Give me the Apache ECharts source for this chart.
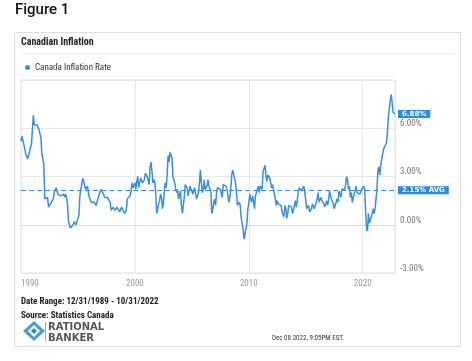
<!DOCTYPE html>
<html>
<head>
<meta charset="utf-8">
<script src="https://cdn.jsdelivr.net/npm/echarts@6/dist/echarts.min.js"></script>
<style>
html,body{margin:0;padding:0;background:#fff;}
#chart{width:472px;height:361px;}
</style>
</head>
<body>
<div id="chart"></div>
<script>
// Monthly Canada CPI inflation (y/y %), month-end dates starting Dec 1989
const startYear = 1989;
const startMonth = 12;
const rates1990s = [5.2,
  5.5,5.4,5.0,4.7,4.4,4.3,4.1,4.1,4.2,4.8,5.0,5.0,
  6.8,6.2,6.3,6.3,6.2,6.3,5.9,5.8,5.4,4.4,4.1,3.8,
  1.6,1.6,1.6,1.7,1.1,1.1,1.3,1.2,1.3,1.6,2.0,2.1,
  2.3,2.1,1.9,1.9,1.8,1.8,1.7,1.7,1.9,1.7,1.9,1.7,
  1.3,0.2,0.2,-0.2,-0.2,-0.1,0.0,0.2,0.2,0.0,0.2,0.2,
  0.6,1.8,2.2,2.5,2.9,2.7,2.6,2.2,2.3,2.4,2.0,1.7,
  1.6,1.4,1.4,1.4,1.4,1.4,1.2,1.4,1.5,1.8,2.0,2.2,
  2.2,2.2,1.9,1.7,1.6,1.8,1.7,1.8,1.6,1.4,0.9,0.8,
  1.1,1.0,0.9,0.9,1.1,1.0,1.0,0.8,0.8,1.1,1.0,1.0,
  0.7,0.6,0.9,1.6,1.6,1.6,1.8,2.1,2.6,2.3,2.2,2.6];
const rates2000s = [
  2.2,2.7,3.0,2.3,2.4,2.9,3.0,2.6,2.7,2.8,3.2,3.2,
  3.0,2.9,2.5,3.6,3.9,3.3,2.6,2.8,2.6,1.9,0.7,0.7,
  1.3,1.5,1.9,1.7,1.0,1.3,2.1,2.6,2.3,3.2,4.3,3.9,
  4.5,4.6,4.2,3.0,2.9,2.6,2.2,2.0,2.2,1.6,1.6,2.1,
  1.2,0.7,0.8,1.7,2.5,2.5,2.3,1.8,1.8,2.4,2.4,2.1,
  1.9,2.1,2.3,2.4,1.6,1.7,2.0,2.6,3.4,2.6,2.0,2.2,
  2.8,2.2,2.2,2.4,2.8,2.4,2.3,2.1,0.7,0.9,1.4,1.6,
  1.2,2.0,2.3,2.2,2.2,2.2,2.2,1.7,2.5,2.4,2.5,2.4,
  2.2,1.8,1.4,1.7,2.2,3.1,3.4,3.5,3.4,2.6,2.0,1.2,
  1.1,1.4,1.2,0.4,0.1,-0.3,-0.9,-0.8,-0.9,0.1,1.0,1.3];
const rates2010s = [
  1.9,1.6,1.4,1.8,1.4,1.0,1.8,1.7,1.9,2.4,2.0,2.4,
  2.3,2.2,3.3,3.3,3.7,3.1,2.7,3.1,3.2,2.9,2.9,2.3,
  2.5,2.6,1.9,2.0,1.2,1.5,1.3,1.2,1.2,1.2,0.8,0.8,
  0.5,1.2,1.0,0.4,0.7,1.2,1.3,1.1,1.1,0.7,0.9,1.2,
  1.5,1.1,1.5,2.0,2.3,2.4,2.1,2.1,2.0,2.4,2.0,1.5,
  1.0,1.0,1.2,0.8,0.9,1.0,1.3,1.3,1.0,1.0,1.4,1.6,
  2.0,1.4,1.3,1.7,1.5,1.5,1.3,1.1,1.3,1.5,1.2,1.5,
  2.1,2.0,1.6,1.6,1.3,1.0,1.2,1.4,1.6,1.4,2.1,1.9,
  1.7,2.2,2.3,2.2,2.2,2.5,3.0,2.8,2.2,2.4,1.7,2.0,
  1.4,1.5,1.9,2.0,2.4,2.0,2.0,1.9,1.9,1.9,2.2,2.2];
const rates2020s = [
  2.4,2.2,0.9,-0.2,-0.4,0.7,0.1,0.1,0.5,0.7,1.0,0.7,
  1.0,1.1,2.2,3.4,3.6,3.1,3.7,4.1,4.4,4.7,4.7,4.8,
  5.1,5.7,6.7,6.8,7.7,8.1,7.6,7.0,6.9,6.88];
const avgRate = 2.15;
const yTicks = [-3, 0, 3, 6];
const seriesName = 'Canada Inflation Rate';

const rates = [].concat(rates1990s, rates2000s, rates2010s, rates2020s);
const data = rates.map((v, i) => {
  const m = startMonth + i;            // months since Jan of startYear (1-based)
  const x = startYear + m / 12;        // month-end in decimal years
  return [x, v];
});
const xMin = data[0][0];
const xMax = data[data.length - 1][0];

const blue = '#3a8fdc';
const tagBlue = '#2b8de0';
const narrow = '"Liberation Sans Narrow", "Roboto Condensed", Roboto';
const chart = echarts.init(document.getElementById('chart'));
chart.setOption({
  animation: false,
  backgroundColor: '#fff',
  textStyle: {fontFamily: 'Roboto'},
  grid: {left: 21, right: 77, top: 80, bottom: 88, show: true, borderColor: '#e2e2e2', borderWidth: 1},
  legend: {
    left: 25, top: 63, padding: 0, itemWidth: 5, itemHeight: 5, icon: 'circle', itemGap: 4,
    textStyle: {fontSize: 9, color: '#333', fontFamily: narrow},
    data: [seriesName]
  },
  xAxis: {
    type: 'value', min: xMin, max: xMax, interval: 10,
    axisLine: {show: true, lineStyle: {color: '#dcdcdc'}},
    axisTick: {show: false},
    splitLine: {show: true, lineStyle: {color: '#e8e8e8'}},
    axisLabel: {color: '#999', fontSize: 9, margin: 6, showMaxLabel: false, alignMinLabel: 'left',
      fontFamily: narrow,
      formatter: v => String(Math.round(v))}
  },
  yAxis: {
    type: 'value', position: 'right', min: yTicks[0], max: 9, interval: 3,
    axisLine: {show: false}, axisTick: {show: false},
    splitLine: {show: true, lineStyle: {color: '#e8e8e8'}},
    axisLabel: {color: '#777', fontSize: 9, margin: 5, showMaxLabel: false, verticalAlign: 'bottom',
      fontFamily: narrow,
      formatter: v => v.toFixed(2) + '%'}
  },
  series: [{
    name: seriesName, type: 'line', data: data, showSymbol: false,
    itemStyle: {color: blue},
    lineStyle: {color: blue, width: 1.5},
    endLabel: {
      show: true, distance: 3, formatter: p => p.value[1].toFixed(2) + '%',
      backgroundColor: tagBlue, color: '#fff', fontSize: 7, fontWeight: 'bold',
      fontFamily: '"DejaVu Sans"',
      padding: [1, 4, 0, 4], lineHeight: 7
    },
    markLine: {
      silent: true, symbol: 'none',
      lineStyle: {color: blue, type: [5, 3], width: 1.2},
      label: {
        show: true, position: 'end', distance: 3, formatter: avgRate.toFixed(2) + '% AVG',
        backgroundColor: tagBlue, color: '#fff', fontSize: 7, fontWeight: 'bold',
        fontFamily: '"DejaVu Sans"',
        padding: [1, 4, 0, 4], lineHeight: 7
      },
      data: [{yAxis: avgRate}]
    }
  }],
  graphic: [
    {type: 'text', left: 15, top: 3, style: {text: 'Figure 1', font: '500 15px Roboto', fill: '#111'}},
    {type: 'rect', shape: {x: 14.5, y: 32.5, width: 446, height: 314}, style: {fill: 'none', stroke: '#dedede', lineWidth: 1}, z: -1},
    {type: 'text', left: 21, top: 37, style: {text: 'Canadian Inflation', font: 'bold 10px ' + narrow, fill: '#222'}},
    {type: 'line', shape: {x1: 21, y1: 53.5, x2: 454, y2: 53.5}, style: {stroke: '#eeeeee', lineWidth: 1}},
    {type: 'text', left: 21, top: 297, style: {text: 'Date Range: 12/31/1989 - 10/31/2022', font: 'bold 9px ' + narrow, fill: '#222'}},
    {type: 'text', left: 21, top: 311, style: {text: 'Source: Statistics Canada', font: 'bold 9px ' + narrow, fill: '#222'}},
    {type: 'text', left: 272, top: 335, style: {text: 'Dec 08 2022, 9:05PM EST.', font: '7px ' + narrow, fill: '#333'}},
    // logo
    {type: 'polygon', shape: {points: [[34, 321], [45, 331], [34, 341], [23, 331]]}, style: {fill: '#4a9bd8'}},
    {type: 'polygon', shape: {points: [[34, 325], [40, 331], [34, 337], [28, 331]]}, style: {fill: '#fff'}},
    {type: 'polygon', shape: {points: [[34, 328], [37, 331], [34, 334], [31, 331]]}, style: {fill: '#3f7fbf'}},
    {type: 'line', shape: {x1: 45.5, y1: 322, x2: 45.5, y2: 341}, style: {stroke: '#aaa', lineWidth: 1}},
    {type: 'text', left: 48, top: 322, style: {text: 'RATIONAL', font: 'bold 10px "DejaVu Sans"', fill: '#555'}},
    {type: 'text', left: 48, top: 333, style: {text: 'BANKER', font: 'bold 10px "DejaVu Sans"', fill: '#555'}}
  ]
});
</script>
</body>
</html>
